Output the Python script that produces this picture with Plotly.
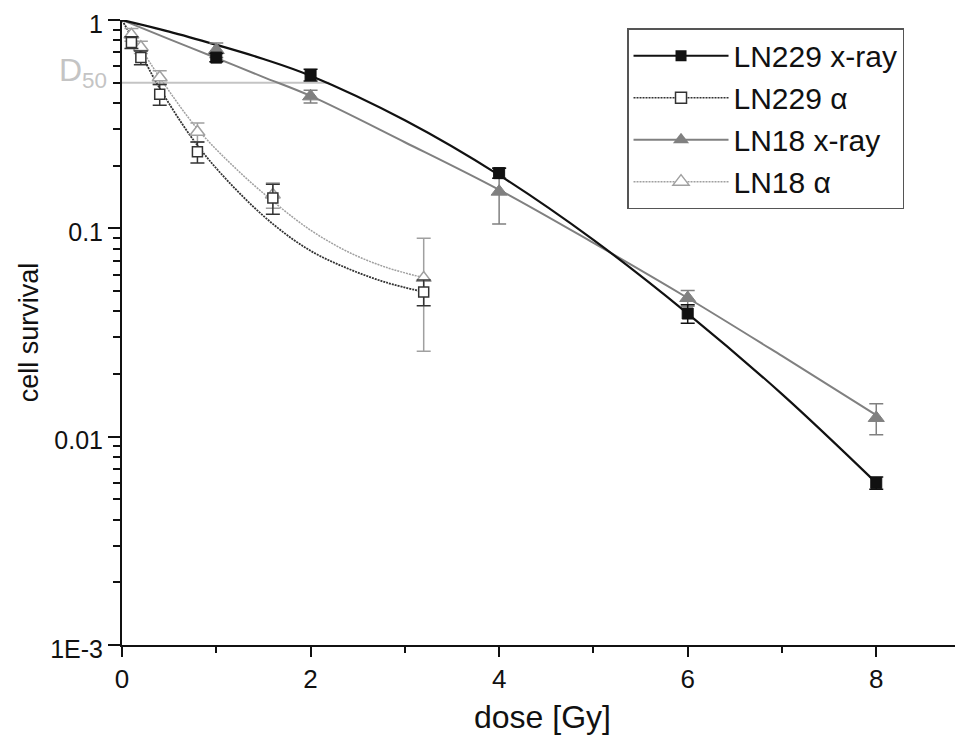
import plotly.graph_objects as go

# ---- measured data ----
dose_xray = [1, 2, 4, 6, 8]
ln229_xray = [0.66, 0.545, 0.184, 0.039, 0.0060]
ln229_xray_err = [0.03, 0.035, 0.010, 0.004, 0.0004]
ln18_xray = [0.718, 0.43, 0.150, 0.0463, 0.0123]
ln18_xray_err = [0.057, 0.03, 0.045, 0.004, 0.0021]

dose_alpha = [0.1, 0.2, 0.4, 0.8, 1.6, 3.2]
ln229_alpha = [0.78, 0.66, 0.44, 0.233, 0.14, 0.0495]
ln229_alpha_err = [0.05, 0.05, 0.05, 0.027, 0.023, 0.007]
ln18_alpha = [0.85, 0.74, 0.53, 0.29, 0.145, 0.0577]
ln18_alpha_err = [0.06, 0.05, 0.04, 0.03, 0.02, 0.032]

# ---- fitted curves ----
fit_dose_xray = [0, 0.5, 1, 1.5, 2, 3, 4, 5, 6, 7, 8]
fit_ln229_xray = [1, 0.88, 0.76, 0.65, 0.54, 0.33, 0.18, 0.088, 0.039, 0.016, 0.006]
fit_ln18_xray = [1, 0.81, 0.657, 0.532, 0.432, 0.259, 0.153, 0.0851, 0.0463, 0.0244, 0.0127]
fit_dose_alpha = [0, 0.1, 0.2, 0.4, 0.8, 1.2, 1.6, 2.0, 2.4, 2.8, 3.2]
fit_ln229_alpha = [1, 0.83, 0.69, 0.47, 0.25, 0.155, 0.105, 0.078, 0.064, 0.055, 0.0495]
fit_ln18_alpha = [1, 0.85, 0.73, 0.53, 0.30, 0.195, 0.135, 0.098, 0.077, 0.065, 0.058]

d50_dose = [0, 2.2]
d50_level = [0.5, 0.5]

tick_vals_y = [0.001, 0.01, 0.1, 1]
tick_text_y = ["1E-3", "0.01", "0.1", "1"]
tick_vals_x = [0, 2, 4, 6, 8]

FONT = "Liberation Sans, Arial, sans-serif"
BLACK = "#111111"
DARK = "#333333"
GRAY = "#808080"
LIGHT = "#a0a0a0"

fig = go.Figure()

# D50 reference line
fig.add_trace(go.Scatter(x=d50_dose, y=d50_level, mode="lines",
                         line=dict(color="#c4c4c4", width=2), showlegend=False, hoverinfo="skip"))

# fit curves
fig.add_trace(go.Scatter(x=fit_dose_alpha, y=fit_ln18_alpha, mode="lines", line_shape="spline",
                         line=dict(color=LIGHT, width=1.5, dash="2px,1px"), showlegend=False))
fig.add_trace(go.Scatter(x=fit_dose_alpha, y=fit_ln229_alpha, mode="lines", line_shape="spline",
                         line=dict(color=DARK, width=1.8, dash="2px,1px"), showlegend=False))
fig.add_trace(go.Scatter(x=fit_dose_xray, y=fit_ln18_xray, mode="lines", line_shape="spline",
                         line=dict(color=GRAY, width=2), showlegend=False))
fig.add_trace(go.Scatter(x=fit_dose_xray, y=fit_ln229_xray, mode="lines", line_shape="spline",
                         line=dict(color=BLACK, width=2.2), showlegend=False))

# data points
fig.add_trace(go.Scatter(x=dose_alpha, y=ln18_alpha, mode="markers", cliponaxis=False,
                         error_y=dict(type="data", array=ln18_alpha_err, color=LIGHT, thickness=1.5, width=7),
                         marker=dict(symbol="triangle-up", size=13, color="white", line=dict(color=LIGHT, width=1.5)),
                         showlegend=False))
fig.add_trace(go.Scatter(x=dose_alpha, y=ln229_alpha, mode="markers", cliponaxis=False,
                         error_y=dict(type="data", array=ln229_alpha_err, color=DARK, thickness=1.5, width=7),
                         marker=dict(symbol="square", size=10, color="white", line=dict(color=DARK, width=1.5)),
                         showlegend=False))
fig.add_trace(go.Scatter(x=dose_xray, y=ln18_xray, mode="markers", cliponaxis=False,
                         error_y=dict(type="data", array=ln18_xray_err, color=GRAY, thickness=1.5, width=7),
                         marker=dict(symbol="triangle-up", size=14, color=GRAY, line=dict(color=GRAY, width=1)),
                         showlegend=False))
fig.add_trace(go.Scatter(x=dose_xray, y=ln229_xray, mode="markers", cliponaxis=False,
                         error_y=dict(type="data", array=ln229_xray_err, color=BLACK, thickness=1.5, width=7),
                         marker=dict(symbol="square", size=11, color=BLACK, line=dict(color=BLACK, width=1)),
                         showlegend=False))

# legend entries
fig.add_trace(go.Scatter(x=[None], y=[None], mode="lines+markers", name="LN229 x-ray",
                         line=dict(color=BLACK, width=2),
                         marker=dict(symbol="square", size=11, color=BLACK)))
fig.add_trace(go.Scatter(x=[None], y=[None], mode="lines+markers", name="LN229 α",
                         line=dict(color=DARK, width=1.5, dash="2px,1px"),
                         marker=dict(symbol="square", size=11, color="white", line=dict(color=DARK, width=1.5))))
fig.add_trace(go.Scatter(x=[None], y=[None], mode="lines+markers", name="LN18 x-ray",
                         line=dict(color=GRAY, width=2),
                         marker=dict(symbol="triangle-up", size=14, color=GRAY)))
fig.add_trace(go.Scatter(x=[None], y=[None], mode="lines+markers", name="LN18 α",
                         line=dict(color=LIGHT, width=1.5, dash="2px,1px"),
                         marker=dict(symbol="triangle-up", size=14, color="white", line=dict(color=LIGHT, width=1.5))))

minor_y = [m * 10 ** e for e in (-3, -2, -1) for m in range(2, 10)]

fig.update_layout(
    width=963, height=740,
    margin=dict(l=114, r=8, t=12, b=103, autoexpand=False),
    paper_bgcolor="white", plot_bgcolor="white",
    font=dict(family=FONT, color="#111111"),
    showlegend=True,
    legend=dict(x=0.6005, y=0.987, xanchor="left", yanchor="top",
                bgcolor="white", bordercolor="#555555", borderwidth=1.5,
                font=dict(size=30, family=FONT, color="#111111"),
                itemwidth=95, tracegroupgap=0),
    annotations=[dict(x=0, y=-0.301, xref="x", yref="y", text="D<sub>50</sub>",
                      showarrow=False, xanchor="right", yanchor="middle",
                      xshift=-13, yshift=10,
                      font=dict(size=32, family=FONT, color="#c4c4c4"))],
)

fig.update_xaxes(range=[0, 8.92], tickvals=tick_vals_x, showline=True, linewidth=2, linecolor="#111111",
                 ticks="outside", ticklen=10, tickwidth=2, tickcolor="#111111",
                 minor=dict(tickvals=[1, 3, 5, 7], ticks="outside", ticklen=6, tickwidth=2, tickcolor="#111111"),
                 showgrid=False, zeroline=False, automargin=False,
                 tickfont=dict(size=26, family=FONT),
                 title=dict(text="dose [Gy]", font=dict(size=32, family=FONT), standoff=12))

fig.update_yaxes(type="log", range=[-3, 0], tickvals=tick_vals_y, ticktext=tick_text_y,
                 showline=True, linewidth=2, linecolor="#111111",
                 ticks="outside", ticklen=12, tickwidth=2, tickcolor="#111111",
                 minor=dict(tickvals=minor_y, ticks="outside", ticklen=7, tickwidth=2, tickcolor="#111111"),
                 showgrid=False, zeroline=False, automargin=False,
                 ticklabeloverflow="allow", ticklabelshift=4,
                 tickfont=dict(size=25, family=FONT),
                 title=dict(text="cell survival", font=dict(size=27, family=FONT), standoff=4))

fig.write_html("out.html")
